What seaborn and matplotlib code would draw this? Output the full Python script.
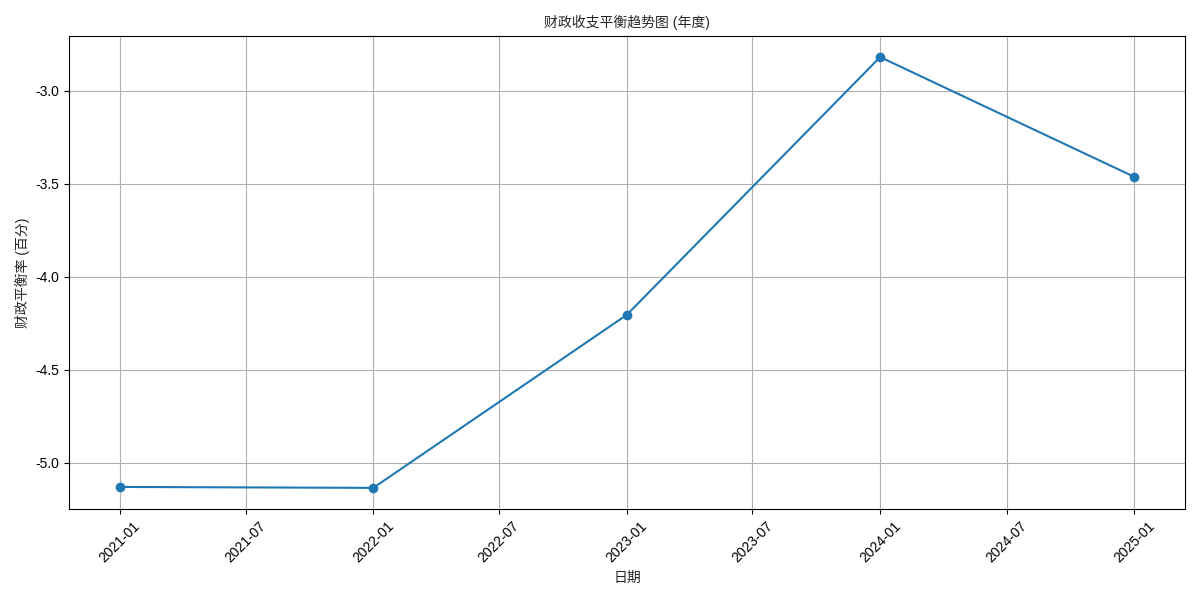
import matplotlib
matplotlib.use("Agg")
import matplotlib.pyplot as plt
import matplotlib.dates as mdates
import seaborn as sns
import pandas as pd

dates = ["2021-01-01", "2022-01-01", "2023-01-01", "2024-01-01", "2025-01-01"]
values = [-5.129, -5.134, -4.204, -2.818, -3.462]
title = "财政收支平衡趋势图 (年度)"
xlabel = "日期"
ylabel = "财政平衡率 (百分)"

sns.set_style("ticks")
plt.rcParams['font.family'] = ['Liberation Sans', 'Noto Sans CJK SC', 'DejaVu Sans']
plt.rcParams['axes.unicode_minus'] = False

df = pd.DataFrame({"date": pd.to_datetime(dates), "value": values})

fig, ax = plt.subplots(figsize=(12, 6), dpi=100)
sns.lineplot(data=df, x="date", y="value", marker="o", markersize=7,
             markeredgewidth=0, color="#1f77b4", linewidth=1.5, ax=ax)
ax.set_title(title, fontsize=10)
ax.set_xlabel(xlabel, fontsize=10)
ax.set_ylabel(ylabel, fontsize=10)
ax.xaxis.set_major_locator(mdates.MonthLocator(bymonth=[1, 7]))
ax.xaxis.set_major_formatter(mdates.DateFormatter("%Y-%m"))
ax.yaxis.set_major_locator(matplotlib.ticker.MultipleLocator(0.5))
ax.yaxis.set_major_formatter(matplotlib.ticker.FormatStrFormatter("%.1f"))
plt.setp(ax.get_xticklabels(), rotation=45)
ax.grid(True, color="#b0b0b0", linewidth=0.8)
for s in ax.spines.values():
    s.set_color("black")
    s.set_linewidth(0.8)
ax.tick_params(colors="black", labelsize=10)
fig.tight_layout()
fig.savefig("out.png", dpi=100)
